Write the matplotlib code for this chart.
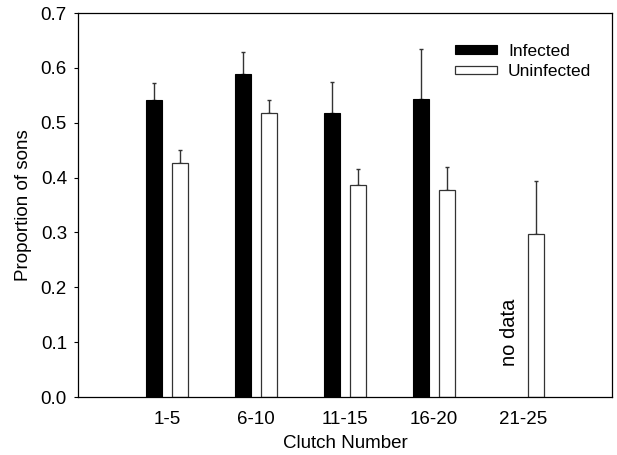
import matplotlib
matplotlib.use("Agg")
import matplotlib.pyplot as plt
import numpy as np

plt.rcParams['font.family'] = ['Liberation Sans', 'DejaVu Sans']

clutches = ["1-5", "6-10", "11-15", "16-20", "21-25"]
infected = [0.541, 0.589, 0.518, 0.543, np.nan]
infected_err = [0.031, 0.039, 0.057, 0.091, np.nan]
uninfected = [0.426, 0.518, 0.386, 0.377, 0.297]
uninfected_err = [0.024, 0.024, 0.029, 0.043, 0.097]

FS = 13.5
LFS = 12.5

fig = plt.figure(figsize=(6.17, 4.55), dpi=100)
ax = fig.add_axes([78 / 617, 1 - 397 / 455, (612 - 78) / 617, (397 - 13) / 455])

x = np.arange(1, len(clutches) + 1)
off = 0.15
w = 0.18
edge = "#333333"

inf_mask = ~np.isnan(infected)
ax.bar(x[inf_mask] - off, np.array(infected)[inf_mask], width=w, color="black",
       edgecolor="black", linewidth=0.8, label="Infected", zorder=2)
ax.errorbar(x[inf_mask] - off, np.array(infected)[inf_mask],
            yerr=[np.zeros(inf_mask.sum()), np.array(infected_err)[inf_mask]],
            fmt="none", ecolor=edge, elinewidth=1, capsize=1.5, capthick=1, zorder=1)

ax.bar(x + off, uninfected, width=w, color="white", edgecolor=edge,
       linewidth=0.9, label="Uninfected", zorder=2)
ax.errorbar(x + off, uninfected, yerr=[np.zeros(len(x)), uninfected_err],
            fmt="none", ecolor=edge, elinewidth=1, capsize=1.5, capthick=1, zorder=1)

ax.text(5 - off, 0.118, "no data", rotation=90, ha="center", va="center", fontsize=14.5)

ax.set_xlim(0, 6)
ax.set_ylim(0, 0.7)
ax.set_xticks(x)
ax.set_xticklabels(clutches, fontsize=FS)
ax.tick_params(axis="x", length=0, pad=10)
ax.set_yticks(np.arange(0, 0.71, 0.1))
ax.set_yticklabels([f"{v:.1f}" for v in np.arange(0, 0.71, 0.1)], fontsize=FS)
ax.tick_params(axis="y", length=3, width=0.8, direction="out", pad=5)
ax.set_xlabel("Clutch Number", fontsize=FS, labelpad=5)
ax.set_ylabel("Proportion of sons", fontsize=FS, labelpad=6)
for s in ax.spines.values():
    s.set_linewidth(0.9)

ax.legend(loc="upper left", bbox_to_anchor=(0.706, 0.92), frameon=False, fontsize=LFS,
          borderaxespad=0, borderpad=0,
          handlelength=2.42, handleheight=0.35, handletextpad=0.63, labelspacing=0.3)

fig.savefig("out.png", dpi=100)
